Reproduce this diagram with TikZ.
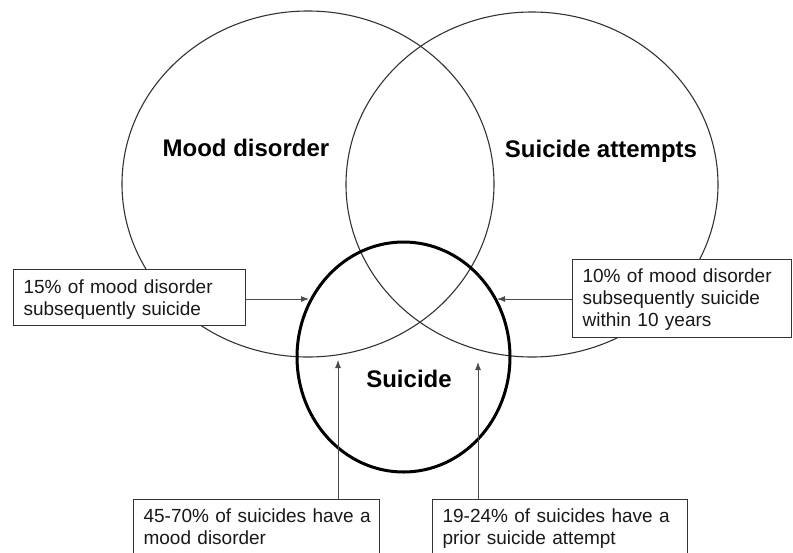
\documentclass[tikz,border=0pt]{standalone}
\usepackage{fontspec}
\setmainfont{Liberation Sans}
\usetikzlibrary{shapes.geometric,arrows.meta}
\begin{document}
\begin{tikzpicture}[x=1pt,y=-1pt,
  ring/.style={draw=black!80, line width=1.1pt, ellipse, inner sep=0pt},
  infobox/.style={draw=black!80, line width=1.2pt, fill=white, anchor=north west,
    align=left, inner xsep=10pt, inner ysep=0pt,
    font=\fontsize{19}{22}\selectfont, text=black!90},
  pointer/.style={draw=black!70, line width=0.9pt, -{Latex[length=8pt,width=6pt]}},
  title/.style={font=\fontsize{24}{28}\selectfont\bfseries, anchor=base}
]
\useasboundingbox (0,0) rectangle (793,552);
\clip (0,0) rectangle (793,552);

% the three sets
\node[ring, minimum width=372pt, minimum height=346pt] (mood) at (308,184) {};
\node[ring, minimum width=372pt, minimum height=345pt] (attempt) at (532,184.5) {};
\node[ring, draw=black, line width=3pt, minimum width=213pt, minimum height=230pt] (suic) at (403.5,357) {};

% set labels
\node[title] (moodlbl) at (246,156) {Mood disorder};
\node[title] (attlbl) at (601,157) {Suicide attempts};
\node[title] (suiclbl) at (409,387) {Suicide};

% annotation boxes (each line kept unbroken)
\node[infobox, text width=212pt, text height=24pt, text depth=32pt] (boxL) at (13,269)
  {\mbox{15\% of mood disorder}\\\mbox{subsequently suicide}};
\node[infobox, text width=199pt, text height=23pt, text depth=55pt] (boxR) at (572,259)
  {\mbox{10\% of mood disorder}\\\mbox{subsequently suicide}\\\mbox{within 10 years}};
\node[infobox, text width=226pt, text height=23pt, text depth=70pt] (boxBL) at (133,499)
  {\mbox{45-70\% of suicides have a}\\\mbox{mood disorder}};
\node[infobox, text width=235pt, text height=23pt, text depth=70pt] (boxBR) at (432,499)
  {\mbox{19-24\% of suicides have a}\\\mbox{prior suicide attempt}};

% pointers
\coordinate (tipL) at (309,299);
\coordinate (tipR) at (497,299);
\coordinate (tipBL) at (338,360);
\coordinate (tipBR) at (478,362);
\draw[pointer] (boxL.east |- tipL) -- (tipL);
\draw[pointer] (boxR.west |- tipR) -- (tipR);
\draw[pointer] (boxBL.north -| tipBL) -- (tipBL);
\draw[pointer] (boxBR.north -| tipBR) -- (tipBR);
\end{tikzpicture}
\end{document}
